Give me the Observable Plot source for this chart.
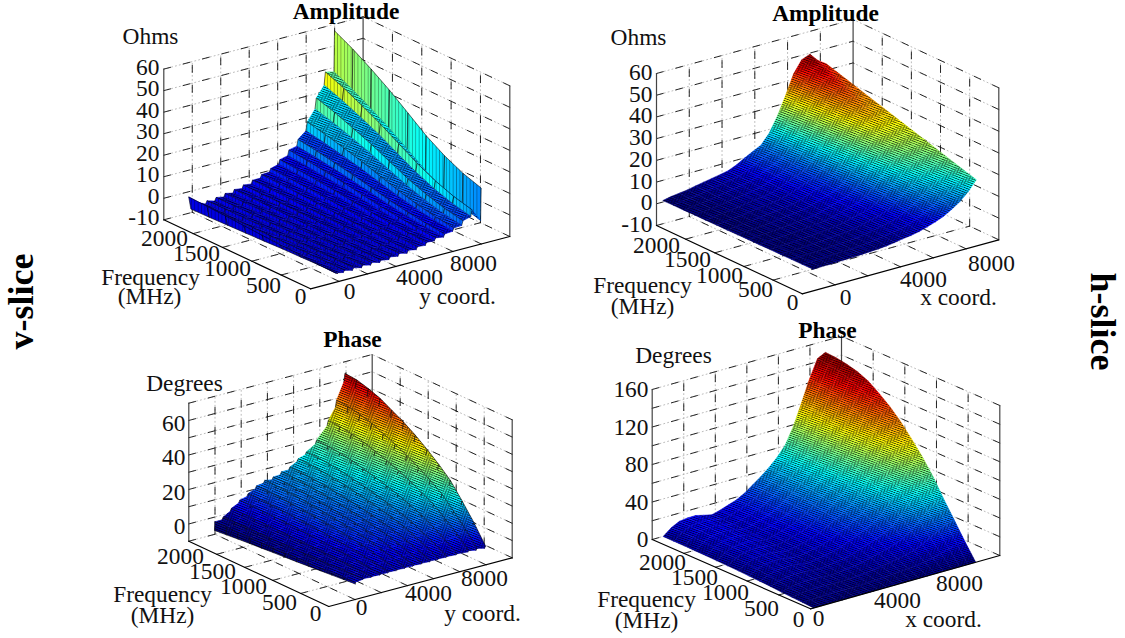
<!DOCTYPE html>
<html><head><meta charset="utf-8">
<style>html,body{margin:0;padding:0;background:#fff}</style>
<script src="https://cdn.jsdelivr.net/npm/d3@7"></script>
<script src="https://cdn.jsdelivr.net/npm/@observablehq/plot@0.6"></script>
</head><body><div id="chart"></div>
<script>
// ---- data: columns of z, one value per frequency row ----
const vAmpFreq=[0,312,625,937,1250,1562,1875,2187,2500];
const vAmpCoord=[-100,-250,300,390,940,1030,1580,1670,2220,2310,2860,2950,3500,3590,4140,4230,4780,4870,5420,5510,6060,6150,6700,6790,7340,7430,7980,8070,8620,8710,9260,9350,9950,9990];
const vAmpZ=[
[-6.2,-6.3,-6.6,-6.8,-7.2,-7.5,-7.8,-8.1,-8.3],[-5.7,-5.5,-5.1,-4.7,-4.2,-3.7,-3.2,-2.8,-2.4],
[-6.4,-6.5,-6.6,-6.7,-6.9,-7.1,-7.2,-7.4,-7.5],[-5.6,-5.6,-5.7,-5.7,-5.8,-5.8,-5.9,-6,-6],
[-6.5,-6.6,-6.7,-6.9,-7.1,-7.3,-7.5,-7.7,-7.8],[-5.5,-5.6,-5.7,-5.8,-5.9,-6.1,-6.2,-6.3,-6.4],
[-6.4,-6.5,-6.6,-6.7,-6.9,-7.1,-7.2,-7.4,-7.5],[-5.4,-5.4,-5.5,-5.6,-5.7,-5.8,-5.9,-5.9,-6],
[-6.3,-6.3,-6.4,-6.4,-6.5,-6.5,-6.6,-6.7,-6.7],[-5.3,-5.3,-5.3,-5.3,-5.3,-5.2,-5.2,-5.2,-5.2],
[-6.2,-6.2,-6.2,-6.1,-6.1,-6.1,-6,-6,-6],[-5.3,-5.2,-5.2,-5.1,-4.9,-4.8,-4.7,-4.6,-4.5],
[-6,-5.9,-5.8,-5.7,-5.5,-5.4,-5.2,-5.1,-5],[-4.9,-4.8,-4.7,-4.5,-4.3,-4,-3.8,-3.7,-3.5],
[-5.5,-5.4,-5.2,-5.1,-4.8,-4.6,-4.4,-4.2,-4],[-4.4,-4.3,-4.1,-3.8,-3.5,-3.2,-2.9,-2.6,-2.4],
[-5.2,-5,-4.7,-4.4,-3.9,-3.5,-3.1,-2.7,-2.4],[-4,-3.8,-3.5,-3.1,-2.6,-2.1,-1.6,-1.2,-.9],
[-4.7,-4.4,-4,-3.5,-2.9,-2.2,-1.7,-1.1,-.7],[-3.5,-3.2,-2.8,-2.2,-1.5,-.8,-.2,.3,.8],
[-3.8,-3.4,-2.8,-2.1,-1.2,-.3,.5,1.2,1.8],[-2.6,-2.2,-1.5,-.7,.3,1.4,2.3,3.1,3.8],
[-2.8,-2.3,-1.5,-.6,.7,1.9,2.9,3.9,4.7],[-1.6,-1,-.1,1,2.4,3.9,5.1,6.2,7.2],
[-2.2,-1.5,-.5,.9,2.5,4.1,5.6,6.9,8],[-.9,-.1,1.1,2.7,4.6,6.5,8.1,9.7,11],
[-.6,.4,1.9,3.8,6.1,8.5,10.5,12.4,14],[.8,2,3.7,6,8.7,11.5,13.9,16.1,18],
[1,2.5,4.7,7.6,11.1,14.6,17.7,20.6,23],[3,4.8,7.3,10.5,14.5,18.5,22,25.3,28],
[4,6,8.9,12.7,17.3,22,26,29.8,33],[7,9.2,12.4,16.6,21.7,26.8,31.3,35.5,39],
[1,3.6,7.3,12.1,18,23.9,29.1,33.9,38],[16,18.9,23,28.3,34.9,41.4,47.2,52.5,57]];
// jet position of each strip's riser and face at the high-frequency end (panel 1 is not coloured by height)
const vAmpRiserTone=[.1,.1,.1,.11,.11,.12,.12,.13,.14,.15,.17,.2,.27,.33,.47,.62,.56];
const vAmpFaceTone=[.07,.07,.07,.07,.07,.07,.08,.08,.09,.1,.11,.12,.15,.19,.34,.36,.47];

const hAmpFreq=[0,184,368,552,736,920,1104,1288,1471,1655,1839,2023,2207,2391,2575];
const hAmpCoord=[650,1149,1648,2147,2646,3145,3644,4143,4642,5141,5640,6139,6638,7137,7636,8135,8634,9133,9632,10131,10630];
const hAmpZ=[
[0,-.1,-.1,-.2,-.2,-.3,-.3,-.4,-.5,-.5,-.6,-.6,-.7,-.7,-.8],
[.1,.1,.1,.1,.1,.1,.1,0,0,0,0,0,0,0,0],
[.1,.1,.2,.2,.2,.2,.3,.3,.3,.4,.4,.4,.4,.5,.5],
[.2,.3,.3,.4,.4,.5,.5,.6,.7,.7,.8,.8,.9,.9,1],
[.3,.4,.5,.6,.7,.8,.9,1,1.2,1.3,1.4,1.5,1.6,1.7,1.8],
[.4,.6,.7,.9,1,1.2,1.3,1.5,1.6,1.8,1.9,2.1,2.2,2.4,2.5],
[.6,.8,1,1.2,1.3,1.5,1.7,1.9,2.1,2.3,2.5,2.6,2.8,3,3.2],
[.8,1,1.2,1.5,1.7,1.9,2.1,2.4,2.6,2.8,3,3.2,3.5,3.7,3.9],
[1,1.3,1.5,1.8,2.1,2.3,2.6,2.9,3.1,3.4,3.6,3.9,4.2,4.4,4.7],
[1.4,1.8,2.1,2.5,2.8,3.2,3.5,3.9,4.2,4.6,4.9,5.3,5.6,6,6.3],
[1.9,2.4,2.8,3.3,3.8,4.2,4.7,5.2,5.6,6.1,6.5,7,7.5,7.9,8.4],
[2.6,3.2,3.7,4.3,4.8,5.4,5.9,6.5,7.1,7.6,8.2,8.7,9.3,9.8,10.4],
[3.1,3.8,4.4,5.1,5.7,6.4,7,7.7,8.4,9,9.7,10.3,11,11.6,12.3],
[3.9,4.8,5.7,6.6,7.6,8.5,9.4,10.3,11.2,12.1,13,14,14.9,15.8,16.7],
[5,6.3,7.6,9,10.3,11.6,12.9,14.3,15.6,16.9,18.2,19.5,20.9,22.2,23.5],
[6.3,8.1,10,11.8,13.6,15.5,17.3,19.1,21,22.8,24.7,26.5,28.3,30.2,32],
[7.8,10.2,12.5,14.9,17.3,19.7,22,24.4,26.8,29.1,31.5,33.9,36.3,38.6,41],
[10,12.6,15.2,17.8,20.4,23,25.6,28.3,30.9,33.5,36.1,38.7,41.3,43.9,46.5],
[12.5,15,17.6,20.1,22.6,25.2,27.7,30.3,32.8,35.3,37.9,40.4,42.9,45.5,48],
[16,18,20,22,24,26,28,30,32,34,36,38,40,42,44],
[20.5,22,23.5,25,26.5,28,29.5,31,32.5,34,35.5,37,38.5,40,41.5]];

const vPhaseFreq=[0,209,419,628,837,1047,1256,1465,1675,1884,2093,2303,2512];
const vPhaseCoord=[20,30,584,674,1214,1304,1858,1948,2488,2578,3132,3222,3762,3852,4406,4496,5036,5126,5680,5770,6310,6400,6940,7030,7710,7800,8606,8696,9236,9326,9880,9970];
const vPhaseZ=[
[-1,-1.6,-2.2,-2.8,-3.4,-4,-4.5,-5,-5.6,-6.1,-6.7,-7.4,-8],[0,-.5,-1,-1.4,-1.7,-2,-2.2,-2.4,-2.6,-2.8,-2.9,-3,-3],
[.5,-.1,-.6,-1.2,-1.5,-1.8,-2.1,-2.3,-2.5,-2.7,-2.9,-3,-3],[.8,.4,.1,-.3,-.5,-.7,-.9,-1,-1.2,-1.3,-1.4,-1.5,-1.5],
[.5,.5,.5,.5,.6,.6,.6,.6,.7,.7,.6,.7,.7],[.8,1,1.2,1.4,1.6,1.7,1.8,1.9,2,2.1,2.1,2.2,2.2],
[.5,1.1,1.7,2.2,2.5,2.9,3.2,3.4,3.7,3.9,4,4.1,4.2],[.8,1.6,2.4,3.1,3.5,4,4.4,4.7,5,5.3,5.5,5.6,5.7],
[.5,1.6,2.5,3.3,3.9,4.5,5,5.4,5.9,6.2,6.4,6.6,6.7],[.8,2.1,3.2,4.2,4.9,5.6,6.2,6.7,7.2,7.6,7.9,8.1,8.2],
[.5,2.1,3.5,4.8,5.7,6.6,7.3,8,8.6,9.1,9.5,9.8,9.9],[.8,2.6,4.2,5.7,6.7,7.7,8.5,9.3,9.9,10.5,11,11.3,11.4],
[.5,2.4,4.1,5.7,6.9,7.9,8.8,9.6,10.3,11,11.4,11.8,11.9],[.8,2.9,4.8,6.6,7.9,9,10,10.9,11.6,12.4,12.9,13.3,13.4],
[.5,2.5,4.3,6,7.2,8.3,9.2,10.1,10.9,11.5,12,12.4,12.5],[.8,3,5,6.9,8.2,9.4,10.4,11.4,12.2,12.9,13.5,13.9,14],
[.5,2.8,4.9,6.8,8.1,9.4,10.5,11.4,12.3,13.1,13.6,14.1,14.2],[.8,3.3,5.6,7.7,9.1,10.5,11.7,12.7,13.6,14.5,15.1,15.6,15.7],
[.5,3.1,5.3,7.4,9,10.4,11.6,12.6,13.6,14.5,15,15.5,15.7],[.8,3.6,6,8.3,10,11.5,12.8,13.9,14.9,15.9,16.5,17,17.2],
[.5,3.7,6.5,9.1,11,12.6,14.1,15.4,16.6,17.7,18.4,19,19.2],[.8,4.2,7.2,10,12,13.7,15.3,16.7,17.9,19.1,19.9,20.5,20.7],
[.5,4.1,7.3,10.3,12.5,14.4,16.1,17.6,18.9,20.2,21,21.7,21.9],[.8,4.6,8,11.2,13.5,15.5,17.3,18.9,20.2,21.6,22.5,23.2,23.4],
[.4,4.8,8.8,12.5,15.1,17.5,19.5,21.3,22.9,24.5,25.6,26.3,26.6],[.8,5.5,9.7,13.6,16.4,18.9,21.1,23,24.7,26.4,27.5,28.3,28.6],
[.2,6.2,11.4,16.3,19.8,23,25.9,28.3,30.4,32.5,33.9,34.9,35.3],[.8,7.2,12.8,18,21.8,25.2,28.2,30.8,33.1,35.3,36.8,37.9,38.3],
[0,7.6,14.3,20.5,25,29,32.7,35.7,38.4,41.1,42.9,44.2,44.7],[.8,9,16.1,22.8,27.6,31.9,35.8,39.1,42,44.9,46.8,48.2,48.7],
[-.2,9.7,18.4,26.5,32.3,37.6,42.3,46.4,49.8,53.3,55.6,57.4,58],[.8,11.4,20.7,29.4,35.6,41.2,46.2,50.6,54.3,58,60.5,62.4,63]];

const hPhaseFreq=[0,170,339,509,678,848,1018,1187,1357,1526,1696,1866,2035,2205,2375];
const hPhaseCoord=[192,707,1222,1737,2252,2767,3282,3797,4312,4826,5341,5856,6371,6886,7401,7916,8431,8946,9461,9976,10476];
const hPhaseZ=[
[0,.7,1.3,2,2.8,3.4,4,4.5,4.9,5.2,5.5,5.7,5.9,5.9,6],
[0,1.4,2.9,4.4,6,7.4,8.7,9.8,10.5,11.3,12,12.4,12.7,12.9,13],
[0,1.9,3.8,5.9,8,9.9,11.6,13,14,15.1,15.9,16.4,17,17.1,17.3],
[0,2,4.1,6.3,8.5,10.5,12.4,13.9,15,16.1,17,17.6,18.1,18.3,18.5],
[0,2,4.1,6.3,8.6,10.6,12.5,14,15.1,16.2,17.1,17.7,18.2,18.4,18.6],
[0,1.8,3.6,5.6,7.6,9.4,11.1,12.4,13.4,14.4,15.2,15.7,16.2,16.3,16.5],
[0,1.6,3.2,5,6.7,8.3,9.8,11,11.8,12.7,13.4,13.9,14.3,14.5,14.6],
[0,1.9,3.7,5.8,7.8,9.7,11.4,12.8,13.8,14.8,15.6,16.2,16.7,16.8,17],
[0,2.2,4.4,6.8,9.2,11.4,13.4,15,16.2,17.4,18.4,19,19.6,19.8,20],
[0,2.5,5.1,7.8,10.6,13.1,15.4,17.3,18.6,20,21.2,21.9,22.5,22.8,23],
[0,3,6.1,9.4,12.7,15.7,18.5,20.7,22.4,24,25.4,26.2,27,27.3,27.6],
[0,3.7,7.5,11.6,15.6,19.4,22.8,25.5,27.5,29.6,31.3,32.3,33.3,33.7,34],
[0,4.5,8.9,13.8,18.6,23.1,27.1,30.4,32.8,35.2,37.3,38.5,39.7,40.1,40.5],
[0,5.2,10.5,16.2,21.9,27.2,32,35.8,38.6,41.5,43.9,45.3,46.7,47.2,47.7],
[0,6.2,12.3,19,25.8,31.9,37.5,42,45.4,48.7,51.5,53.2,54.9,55.4,56],
[0,7.3,14.7,22.6,30.6,38,44.6,50,53.9,57.9,61.3,63.3,65.3,65.9,66.6],
[0,9.2,18.5,28.6,38.6,47.9,56.3,63,68,73,77.3,79.8,82.3,83.2,84],
[0,11.7,23.4,36.2,48.9,60.6,71.3,79.8,86.2,92.6,97.9,101,104.3,105.3,106.4],
[0,14.3,28.5,44.1,59.7,73.9,86.9,97.3,105,112.8,119.3,123.2,127.1,128.4,129.7],
[0,16.4,32.9,50.8,68.7,85.2,100.1,112,121,130,137.4,141.9,146.4,147.9,149.4],
[0,17,35,53,72,88,102,115,126,135,143,148,151,153,153.7]];

const freqTicks=[500,1000,1500,2000];
const freqLabels=[2000,1500,1000,500,0];
const coordLabels=[0,4000,8000];

// ---- layout: box corners on the page, axis ranges, label places ----
const panels=[
 {freq:vAmpFreq,coord:vAmpCoord,z:vAmpZ,L:[163.3,219.3],F:[310,288.3],R:[509.3,236],H:150.7,
  cDom:[-2000,12000],zDom:[-10,60],zTicks:[-10,0,10,20,30,40,50,60],cTicks:[0,2000,4000,6000,8000,10000],zLabels:[-10,0,10,20,30,40,50,60],
  zLabelX:159,zLabelDy:-2,title:"Amplitude",titleAt:[345.5,11],unit:"Ohms",unitAt:[150,36],
  fAt:[[164,238],[196,253],[227,268],[263,285],[300,296]],cAt:[[349,291],[419,277],[473,263]],
  fName:[150,277],mhz:[149,296],cName:"y coord.",cNameAt:[457,296],tone:"strip",strips:true},
 {freq:hAmpFreq,coord:hAmpCoord,z:hAmpZ,L:[656,225],F:[801.7,293.3],R:[998.3,239.3],H:152,
  cDom:[0,12000],zDom:[-10,60],zTicks:[-10,0,10,20,30,40,50,60],cTicks:[2000,4000,6000,8000,10000],zLabels:[-10,0,10,20,30,40,50,60],
  zLabelX:652,zLabelDy:-1,title:"Amplitude",titleAt:[825,13],unit:"Ohms",unitAt:[638,37],
  fAt:[[656,245],[687,259],[719,275],[755,289],[792,302]],cAt:[[845,297],[923,279],[991,263]],
  fName:[642,285],mhz:[642,306],cName:"x coord.",cNameAt:[958,297],tone:z=>z/49},
 {freq:vPhaseFreq,coord:vPhaseCoord,z:vPhaseZ,L:[188.3,540.7],F:[328.3,606],R:[511.7,557.3],H:138,
  cDom:[-2000,12000],zDom:[-10,70],zTicks:[-10,0,10,20,30,40,50,60,70],cTicks:[0,2000,4000,6000,8000,10000],zLabels:[0,20,40,60],
  zLabelX:185,zLabelDy:3,title:"Phase",titleAt:[352,339],unit:"Degrees",unitAt:[184,383],
  fAt:[[180,556],[212,571],[243,586],[279,602],[315,613]],cAt:[[361,607],[428,593],[484,578]],
  fName:[162,594],mhz:[162,615],cName:"y coord.",cNameAt:[482,613],tone:z=>(z+5)/72,strips:true},
 {freq:hPhaseFreq,coord:hPhaseCoord,z:hPhaseZ,L:[651.7,539],F:[810,608.3],R:[999.3,555],H:150,
  cDom:[0,12000],zDom:[0,160],zTicks:[0,20,40,60,80,100,120,140,160],cTicks:[2000,4000,6000,8000,10000],zLabels:[0,40,80,120,160],
  zLabelX:648,zLabelDy:0,title:"Phase",titleAt:[827,330],unit:"Degrees",unitAt:[673,355],
  fAt:[[662,562],[694,577],[725,592],[761,608],[798,619]],cAt:[[818,618],[897,600],[959,583]],
  fName:[646,599],mhz:[646,620],cName:"x coord.",cNameAt:[943,619],tone:z=>z/155}
];
const FMAX=2500, MESH=58;

const jetStops=[0,.125,.375,.625,.875,1];
const jetColors=["#000080","#0000ff","#00ffff","#ffff00","#ff0000","#800000"];
const jet=d3.scaleLinear().domain(jetStops).range(jetColors).interpolate(d3.interpolateRgb).clamp(true);

function projector(p){
 const bx=p.R[0]-p.F[0],by=p.R[1]-p.F[1],ax=p.L[0]-p.F[0],ay=p.L[1]-p.F[1];
 const zu=p.H/(p.zDom[1]-p.zDom[0]);
 return (f,c,z)=>{const a=f/FMAX,b=(c-p.cDom[0])/(p.cDom[1]-p.cDom[0]);
  return [p.F[0]+bx*b+ax*a,p.F[1]+by*b+ay*a-zu*(z-p.zDom[0])];};
}

// smooth shading of one cell from its four corner tones
const defs=d3.create("svg:defs");
function shade(cid,q,ts){
 const lo=d3.min(ts),hi=d3.max(ts);
 const e1=[(q[1][0]-q[0][0]+q[2][0]-q[3][0])/2,(q[1][1]-q[0][1]+q[2][1]-q[3][1])/2];
 const e2=[(q[3][0]-q[0][0]+q[2][0]-q[1][0])/2,(q[3][1]-q[0][1]+q[2][1]-q[1][1])/2];
 const d1=(ts[1]-ts[0]+ts[2]-ts[3])/2,d2=(ts[3]-ts[0]+ts[2]-ts[1])/2;
 const det=e1[0]*e2[1]-e1[1]*e2[0];
 if(Math.abs(det)<.5||hi-lo<.004) return jet((lo+hi)/2);
 const gx=(d1*e2[1]-d2*e1[1])/det,gy=(e1[0]*d2-e2[0]*d1)/det,n=gx*gx+gy*gy;
 if(!(n>0)) return jet((lo+hi)/2);
 const cx=d3.mean(q,d=>d[0]),cy=d3.mean(q,d=>d[1]),tc=d3.mean(ts);
 const g=defs.append("linearGradient").attr("id","g"+cid).attr("gradientUnits","userSpaceOnUse")
  .attr("x1",cx+gx/n*(lo-tc)).attr("y1",cy+gy/n*(lo-tc)).attr("x2",cx+gx/n*(hi-tc)).attr("y2",cy+gy/n*(hi-tc));
 for(let i=0;i<=4;i++) g.append("stop").attr("offset",i/4).attr("stop-color",jet(lo+(hi-lo)*i/4));
 return `url(#g${cid})`;
}
// fine mesh overlay: the dense wire grid of the surface, drawn as a skewed texture
function meshPattern(name,u,v,both,opacity){
 const W=Math.hypot(...u),H=Math.hypot(...v);
 const pat=defs.append("pattern").attr("id",name).attr("patternUnits","userSpaceOnUse").attr("width",W).attr("height",H)
  .attr("patternTransform",`matrix(${u[0]/W},${u[1]/W},${v[0]/H},${v[1]/H},0,0)`);
 pat.append("line").attr("x1",0).attr("y1",0).attr("x2",W).attr("y2",0).attr("stroke","#000").attr("stroke-width",1.2).attr("stroke-opacity",opacity);
 if(both) pat.append("line").attr("x1",0).attr("y1",0).attr("x2",0).attr("y2",H).attr("stroke","#000").attr("stroke-width",1.2).attr("stroke-opacity",opacity);
}

let id=0;
const cells=[],grid=[],box=[],backs=[],zText=[],labels=[],bold=[];
panels.forEach((p,pi)=>{
 const P=projector(p);
 const seg=(arr,a,b)=>{id++;const A=P(...a),B=P(...b);arr.push({x:A[0],y:A[1],id},{x:B[0],y:B[1],id});};
 const [c0,c1]=p.cDom,[z0,z1]=p.zDom;
 for(const z of p.zTicks){seg(grid,[FMAX,c0,z],[FMAX,c1,z]);seg(grid,[0,c1,z],[FMAX,c1,z]);}
 for(const c of p.cTicks){seg(grid,[FMAX,c,z0],[FMAX,c,z1]);seg(grid,[0,c,z0],[FMAX,c,z0]);}
 for(const f of freqTicks){seg(grid,[f,c1,z0],[f,c1,z1]);seg(grid,[f,c0,z0],[f,c1,z0]);}
 seg(box,[FMAX,c0,z0],[0,c0,z0]);seg(box,[0,c0,z0],[0,c1,z0]);
 seg(backs,[FMAX,c0,z0],[FMAX,c0,z1]);seg(backs,[0,c1,z0],[0,c1,z1]);seg(backs,[FMAX,c1,z0],[FMAX,c1,z1]);
 const mu=[(p.R[0]-p.F[0])/MESH,(p.R[1]-p.F[1])/MESH],mv=[(p.L[0]-p.F[0])/MESH,(p.L[1]-p.F[1])/MESH];
 meshPattern("mesh"+pi,mu,mv,true,.82);
 meshPattern("rise"+pi,[0,3.4],[3.4,0],false,.5);
 // painter's order: far corner (high frequency, high coordinate) first
 const nk=p.freq.length,nj=p.coord.length;
 for(let k=nk-2;k>=0;k--)for(let j=nj-2;j>=0;j--){
  const corner=[[j,k],[j+1,k],[j+1,k+1],[j,k+1]];
  const q=corner.map(([u,v])=>P(p.freq[v],p.coord[u],p.z[u][v]));
  let ts;
  if(p.tone==="strip"){
   const top=j%2===0?vAmpRiserTone[j/2]:vAmpFaceTone[(j+1)/2];
   const low=.07+.38*(top-.07);
   ts=corner.map(([u,v])=>low+(top-low)*v/(nk-1));
  } else ts=corner.map(([u,v])=>p.tone(p.z[u][v]));
  const riser=p.strips&&j%2===0;
  id++;
  const f=shade(id,q,ts);
  const base=riser?{s:"rgba(0,0,0,.8)",sw:.7}:{s:f,sw:.5};
  for(const pt of [...q,q[0]]) cells.push({x:pt[0],y:pt[1],id,f,...base});
  id++;
  const tex=`url(#${riser&&pi===0?"rise":"mesh"}${pi})`;
  for(const pt of [...q,q[0]]) cells.push({x:pt[0],y:pt[1],id,f:tex,s:"none",sw:0});
 }
 for(const z of p.zLabels) zText.push({x:p.zLabelX,y:P(FMAX,c0,z)[1]+p.zLabelDy,text:String(z)});
 freqLabels.forEach((f,i)=>labels.push({x:p.fAt[i][0],y:p.fAt[i][1],text:String(f)}));
 coordLabels.forEach((c,i)=>labels.push({x:p.cAt[i][0],y:p.cAt[i][1],text:String(c)}));
 labels.push({x:p.fName[0],y:p.fName[1],text:"Frequency"},{x:p.mhz[0],y:p.mhz[1],text:"(MHz)"},
  {x:p.cNameAt[0],y:p.cNameAt[1],text:p.cName},{x:p.unitAt[0],y:p.unitAt[1],text:p.unit});
 bold.push({x:p.titleAt[0],y:p.titleAt[1],text:p.title});
});
const sideLabels=[{x:21,y:301,text:"v-slice",r:-90},{x:1102,y:321,text:"h-slice",r:90}];
const textStyle={fill:"#111",fontFamily:"Liberation Serif",fontSize:23.4};

const chart=Plot.plot({
 width:1125,height:638,margin:0,
 style:{background:"#fff",fontFamily:"Liberation Serif"},
 x:{domain:[0,1125],range:[0,1125],axis:null},
 y:{domain:[0,638],range:[0,638],axis:null},
 marks:[
  ()=>defs.node(),
  Plot.line(grid,{x:"x",y:"y",z:"id",stroke:"#aaa",strokeWidth:.8,strokeDasharray:"1 3"}),
  Plot.line(grid,{x:"x",y:"y",z:"id",stroke:"#111",strokeWidth:.9,strokeDasharray:"7 13"}),
  Plot.line(backs,{x:"x",y:"y",z:"id",stroke:"#444",strokeWidth:1.2}),
  Plot.line(cells,{x:"x",y:"y",z:"id",fill:{value:"f",scale:null},stroke:{value:"s",scale:null},strokeWidth:"sw"}),
  Plot.line(box,{x:"x",y:"y",z:"id",stroke:"#000",strokeWidth:1.2}),
  Plot.text(zText,{x:"x",y:"y",text:"text",textAnchor:"end",...textStyle}),
  Plot.text(labels,{x:"x",y:"y",text:"text",...textStyle}),
  Plot.text(bold,{x:"x",y:"y",text:"text",fontSize:23.4,fontWeight:"bold",fill:"#000",fontFamily:"Liberation Serif"}),
  Plot.text(sideLabels,{x:"x",y:"y",text:"text",rotate:"r",fontSize:36,fontWeight:"bold",fill:"#000",fontFamily:"Liberation Serif"})
 ]
});
document.getElementById("chart").append(chart);
</script></body></html>
